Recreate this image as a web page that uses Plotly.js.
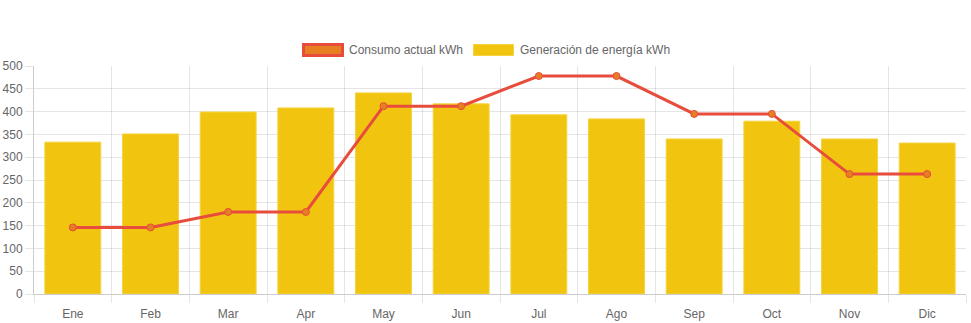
<!DOCTYPE html>
<html>
<head>
<meta charset="utf-8">
<script src="https://cdn.plot.ly/plotly-3.0.1.min.js"></script>
<style>html,body{margin:0;padding:0;background:#fff;}#chart{width:971px;height:323px;}</style>
</head>
<body>
<div id="chart"></div>
<script>
const months = ["Ene","Feb","Mar","Apr","May","Jun","Jul","Ago","Sep","Oct","Nov","Dic"];
const consumo = [146,146,180,180,412,412,478,478,395,395,263,263];
const generacion = [333,351,399,408,441,417,393,384,340,379,340,331];
const yTicks = [0,50,100,150,200,250,300,350,400,450,500];
const seriesNames = ["Consumo actual kWh", "Generación de energía kWh"];

const font = {family: "'Liberation Sans', Arial, Helvetica, sans-serif", size: 12, color: "#666"};
const grid = "rgba(0,0,0,0.1)";

const W = 971, H = 323;
const M = {l: 34, r: 5, t: 66, b: 29};
const pw = W - M.l - M.r, ph = H - M.t - M.b;
const px = v => (v - M.l) / pw;
const py = v => (H - M.b - v) / ph;

const traces = [
  {type: "bar", x: months, y: generacion, name: seriesNames[1],
   marker: {color: "#f1c40f", line: {color: "#f5d33f", width: 1}}, showlegend: false},
  {type: "scatter", mode: "lines+markers", x: months, y: consumo, name: seriesNames[0],
   line: {color: "#e74c3c", width: 3}, marker: {color: "#e67e22", size: 7, line: {color: "#e74c3c", width: 1}},
   showlegend: false, cliponaxis: false}
];

// custom legend (Chart.js style wide boxes)
const shapes = [
  {type: "rect", xref: "paper", yref: "paper", x0: px(303.5), x1: px(342.5), y0: py(55.5), y1: py(44.5),
   fillcolor: "#e67e22", line: {color: "#e74c3c", width: 3}, layer: "above"},
  {type: "rect", xref: "paper", yref: "paper", x0: px(473.5), x1: px(513.5), y0: py(55.5), y1: py(44.5),
   fillcolor: "#f1c40f", line: {color: "#f5d33f", width: 1}, layer: "above"}
];
const annotations = [
  {xref: "paper", yref: "paper", x: px(347), y: py(50), xanchor: "left", yanchor: "middle",
   text: seriesNames[0], showarrow: false, font: font},
  {xref: "paper", yref: "paper", x: px(518), y: py(50), xanchor: "left", yanchor: "middle",
   text: seriesNames[1], showarrow: false, font: font}
];

const layout = {
  width: W, height: H,
  margin: M,
  paper_bgcolor: "#fff", plot_bgcolor: "#fff",
  font: font,
  bargap: 0.28,
  showlegend: false,
  shapes: shapes,
  annotations: annotations,
  xaxis: {type: "category", categoryorder: "array", categoryarray: months, range: [-0.5, 11.5],
          tickson: "boundaries", ticks: "outside", ticklen: 8, tickcolor: grid, ticklabelstandoff: 9,
          showgrid: true, gridcolor: grid, showline: true, linecolor: "rgba(0,0,0,0.2)",
          zeroline: false, tickfont: font, fixedrange: true},
  yaxis: {range: [0, 500], tickvals: yTicks, ticks: "outside", ticklen: 8, tickcolor: grid,
          showgrid: true, gridcolor: grid, showline: true, linecolor: "rgba(0,0,0,0.2)",
          zeroline: false, tickfont: font, fixedrange: true}
};

Plotly.newPlot("chart", traces, layout, {displayModeBar: false, staticPlot: true});
</script>
</body>
</html>
